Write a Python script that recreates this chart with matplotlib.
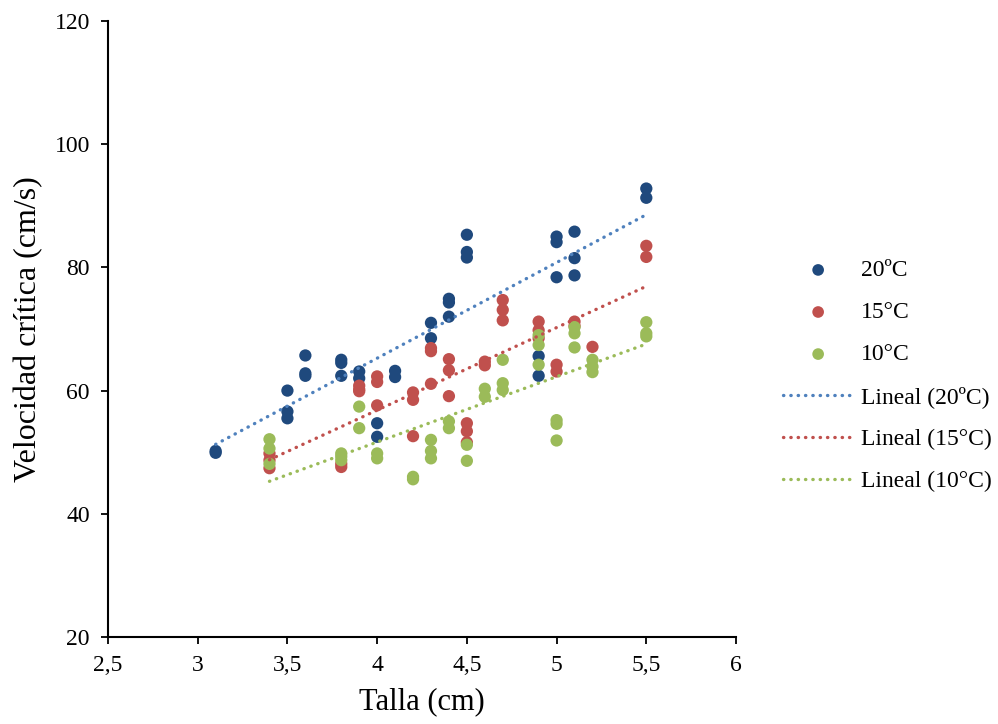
import numpy as np
import matplotlib
matplotlib.use("Agg")
import matplotlib.pyplot as plt
from matplotlib.ticker import FuncFormatter

plt.rcParams['font.family'] = ['Liberation Serif', 'DejaVu Serif']

# Talla (cm) / velocidad crítica (cm/s) por temperatura
x20 = [3.1, 3.1, 3.5, 3.5, 3.5, 3.6, 3.6, 3.6, 3.8, 3.8, 3.8, 3.9, 3.9, 4.0, 4.0,
       4.1, 4.1, 4.3, 4.3, 4.4, 4.4, 4.4, 4.5, 4.5, 4.5, 4.9, 4.9, 5.0, 5.0, 5.0,
       5.1, 5.1, 5.1, 5.5, 5.5]
y20 = [50.2, 49.9, 60.0, 56.6, 55.5, 65.7, 62.8, 62.4, 65.0, 64.5, 62.4, 63.1, 62.0, 54.7, 52.5,
       63.2, 62.2, 71.0, 68.5, 74.9, 74.3, 72.0, 85.3, 82.5, 81.6, 65.6, 62.4, 85.0, 84.1, 78.4,
       85.8, 81.5, 78.7, 92.8, 91.3]

x15 = [3.4, 3.4, 3.4, 3.8, 3.8, 3.9, 3.9, 3.9, 4.0, 4.0, 4.0, 4.2, 4.2, 4.2,
       4.3, 4.3, 4.3, 4.4, 4.4, 4.4, 4.5, 4.5, 4.5, 4.6, 4.6, 4.7, 4.7, 4.7,
       4.9, 4.9, 4.9, 5.0, 5.0, 5.1, 5.1, 5.2, 5.5, 5.5]
y15 = [49.8, 48.7, 47.4, 48.1, 47.6, 60.8, 60.2, 59.9, 62.3, 61.4, 57.6, 59.7, 58.5, 52.6,
       66.9, 66.4, 61.1, 65.1, 63.3, 59.1, 54.7, 53.4, 51.6, 64.7, 64.1, 74.7, 73.1, 71.4,
       71.2, 69.8, 68.5, 64.2, 63.1, 71.2, 70.5, 67.1, 83.5, 81.7]

x10 = [3.4, 3.4, 3.4, 3.8, 3.8, 3.8, 3.9, 3.9, 4.0, 4.0, 4.2, 4.2, 4.3, 4.3, 4.3,
       4.4, 4.4, 4.5, 4.5, 4.6, 4.6, 4.7, 4.7, 4.7, 4.9, 4.9, 4.9, 5.0, 5.0, 5.0,
       5.1, 5.1, 5.1, 5.2, 5.2, 5.2, 5.5, 5.5, 5.5]
y10 = [52.1, 50.6, 48.1, 49.8, 49.3, 48.7, 57.4, 53.9, 49.8, 49.0, 46.0, 45.6, 52.0, 50.2, 49.0,
       55.0, 53.9, 51.2, 48.6, 60.3, 59.0, 65.0, 61.2, 60.1, 69.0, 67.4, 64.2, 55.2, 54.6, 51.9,
       70.3, 69.3, 67.0, 65.0, 63.9, 63.0, 71.1, 69.3, 68.8]

series = [("20ºC", x20, y20, "#1F497D", "#4F81BD"),
          ("15°C", x15, y15, "#C0504D", "#C0504D"),
          ("10°C", x10, y10, "#9BBB59", "#9BBB59")]

fig = plt.figure(figsize=(9.98, 7.24), dpi=100)
ax = fig.add_axes([0.1082, 0.1202, 0.6293, 0.8508])

pts = []
for name, xs, ys, c, _ in series:
    pts.append(ax.scatter(xs, ys, s=78, color=c, edgecolors='none', label=name, zorder=2))

lines = []
for name, xs, ys, _, lc in series:
    m, b = np.polyfit(xs, ys, 1)
    xx = np.array([min(xs), max(xs)])
    ln, = ax.plot(xx, m * xx + b, color=lc, lw=2.4, linestyle=(0, (0.1, 2.1)),
                  dash_capstyle='round', label="Lineal (%s)" % name, zorder=3)
    lines.append(ln)

ax.set_xlim(2.5, 6)
ax.set_ylim(20, 120)
ax.set_xticks(np.arange(2.5, 6.01, 0.5))
ax.set_yticks(np.arange(20, 121, 20))
ax.xaxis.set_major_formatter(FuncFormatter(lambda v, p: ("%g" % v).replace(".", ",")))

for s in ["top", "right"]:
    ax.spines[s].set_visible(False)
for s in ["left", "bottom"]:
    ax.spines[s].set_linewidth(1.5)
ax.tick_params(direction='out', length=5, width=1.3, labelsize=17, pad=8)

ax.set_xlabel("Talla (cm)", fontsize=22, labelpad=8)
ax.set_ylabel("Velocidad crítica (cm/s)", fontsize=23, labelpad=8)

fig.legend(handles=pts + lines, loc='center left', bbox_to_anchor=(0.763, 0.481),
           frameon=False, fontsize=17, handlelength=3.0, labelspacing=0.87,
           handletextpad=0.3, scatterpoints=1, markerscale=0.95)

fig.savefig("out.png", dpi=100)
